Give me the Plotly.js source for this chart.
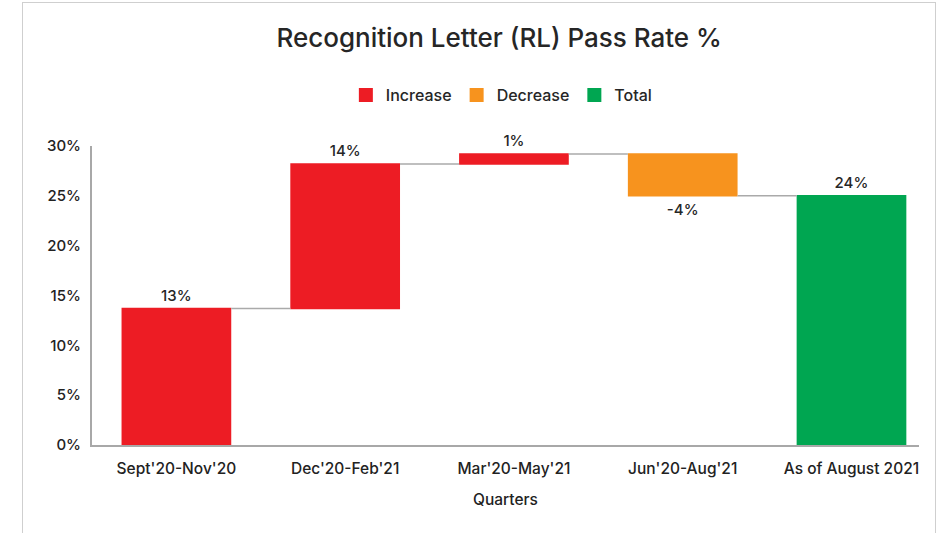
<!DOCTYPE html>
<html><head><meta charset="utf-8">
<script src="https://cdn.plot.ly/plotly-3.0.1.min.js"></script>
<style>
html,body{margin:0;padding:0;background:#fff;}
#wrap{position:relative;width:940px;height:533px;overflow:hidden;}
#chart{position:absolute;left:0;top:0;width:940px;height:533px;}
#frame{position:absolute;left:22px;top:2px;width:912px;height:600px;border:1px solid #cfcfcf;pointer-events:none;}
</style></head>
<body>
<div id="wrap"><div id="chart"></div><div id="frame"></div></div>
<script>
const categories = ["Sept'20-Nov'20", "Dec'20-Feb'21", "Mar'20-May'21", "Jun'20-Aug'21", "As of August 2021"];
const values = [13.7, 14.5, 1.0, -4.2, 0];
const measures = ["relative", "relative", "relative", "relative", "total"];
const labels = ["13%", "14%", "1%", "-4%", "24%"];
const legendNames = ["Increase", "Decrease", "Total"];
const colors = {inc: "#ED1C24", dec: "#F7931E", tot: "#00A651"};

const font = "Inter, 'Noto Sans', sans-serif";

const traces = [{
  type: "waterfall",
  x: categories,
  y: values,
  measure: measures,
  text: labels,
  textposition: "outside",
  textfont: {size: 15, color: "#262626", family: font, weight: 500},
  cliponaxis: false,
  increasing: {marker: {color: colors.inc}},
  decreasing: {marker: {color: colors.dec}},
  totals: {marker: {color: colors.tot}},
  connector: {line: {color: "#aaaaaa", width: 1.5}},
  showlegend: false,
  hoverinfo: "skip"
}];
const legendColors = [colors.inc, colors.dec, colors.tot];
legendNames.forEach((n, i) => {
  traces.push({
    type: "scatter", mode: "markers", x: [null], y: [null], name: n,
    marker: {symbol: "square", size: 14, color: legendColors[i]},
    hoverinfo: "skip"
  });
});

const layout = {
  width: 940, height: 533,
  margin: {l: 92, r: 21, t: 146, b: 88},
  paper_bgcolor: "#fff", plot_bgcolor: "#fff",
  font: {family: font, color: "#262626"},
  title: {text: "Recognition Letter (RL) Pass Rate %", font: {size: 26, color: "#262626", family: font, weight: 500},
          x: 0.531, xanchor: "center", y: 0.929, yanchor: "middle", xref: "container", yref: "container"},
  waterfallgap: 0.35,
  showlegend: true,
  legend: {orientation: "h", x: 0.495, xanchor: "center", y: 1.17, yanchor: "middle",
           font: {size: 16, color: "#262626", family: font, weight: 500}, itemwidth: 30, traceorder: "normal"},
  xaxis: {type: "category", range: [-0.5, 4.4], showgrid: false, showline: true, linecolor: "#a8a8a8", linewidth: 2,
          ticks: "", ticklabelstandoff: 8, tickfont: {size: 15.5, color: "#222", family: font, weight: 500}, fixedrange: true,
          title: {text: "Quarters", font: {size: 15.5, color: "#222", family: font, weight: 500}, standoff: 18}},
  yaxis: {range: [0, 30], dtick: 5, ticksuffix: "%", showgrid: false, zeroline: false, showline: true,
          linecolor: "#a8a8a8", linewidth: 2, ticks: "", ticklabelstandoff: 6,
          tickfont: {size: 15, color: "#222", family: font, weight: 500}, fixedrange: true}
};
Plotly.newPlot("chart", traces, layout, {displayModeBar: false, staticPlot: true});
</script>
</body></html>
